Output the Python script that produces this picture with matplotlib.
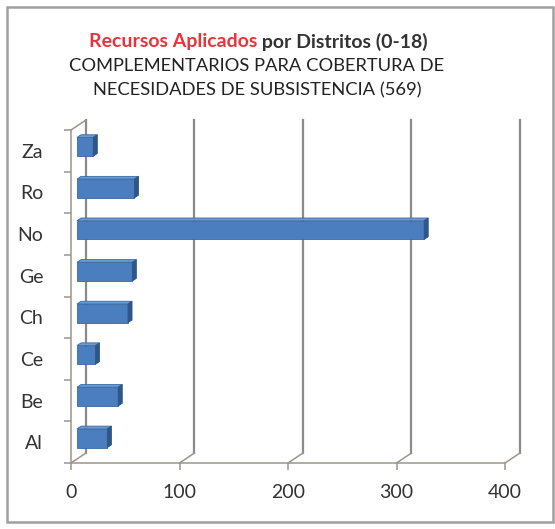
import matplotlib
matplotlib.use("Agg")
import matplotlib.pyplot as plt
from matplotlib.patches import Polygon, Rectangle

# data
distritos = ["Al", "Be", "Ce", "Ch", "Ge", "No", "Ro", "Za"]
recursos = [28, 38, 17, 47, 51, 320, 53, 15]
x_ticks = [0, 100, 200, 300, 400]

titulo_rojo = "Recursos Aplicados"
titulo_resto = " por Distritos (0-18)"
subtitulo = ["COMPLEMENTARIOS PARA COBERTURA DE",
             "NECESIDADES DE SUBSISTENCIA (569)"]

plt.rcParams['font.family'] = ['Lato', 'DejaVu Sans']

# fake 3d depth, in data units
DX = 13.8
DY = 0.24
f0, f1 = 0.40, 0.67   # bar front / back depth fraction
bar_h = 0.45
axis_col = "#9c958c"
grid_col = "#8a8a8a"
front_col = "#4a7ebf"
top_col = "#6a9ad4"
side_col = "#2f5687"

fig = plt.figure(figsize=(5.55, 5.29), dpi=100)
ax = fig.add_axes([71/555, 66/529, 434/555, 333/529])
ax.set_xlim(0, 400)
ax.set_ylim(-0.5, len(distritos) - 0.5)

ytop = len(distritos) - 0.5

# back wall gridlines
for xv in x_ticks:
    ax.plot([xv + DX, xv + DX], [-0.5 + DY, ytop + DY], color=grid_col,
            lw=1.6, clip_on=False, zorder=1)
    # floor diagonals
    ax.plot([xv, xv + DX], [-0.5, -0.5 + DY], color=axis_col, lw=1.1,
            clip_on=False, zorder=1)
# left wall top diagonal
ax.plot([0, DX], [ytop, ytop + DY], color=axis_col, lw=1.1, clip_on=False, zorder=1)

# bars
for i, v in enumerate(recursos):
    x0 = f0 * DX
    y0 = i - bar_h / 2 + f0 * DY
    ddx = (f1 - f0) * DX
    ddy = (f1 - f0) * DY
    ax.add_patch(Rectangle((x0, y0), v, bar_h, facecolor=front_col,
                           edgecolor="#3a6aa5", lw=0.6, zorder=3, clip_on=False))
    top = [(x0, y0 + bar_h), (x0 + v, y0 + bar_h),
           (x0 + v + ddx, y0 + bar_h + ddy), (x0 + ddx, y0 + bar_h + ddy)]
    ax.add_patch(Polygon(top, closed=True, facecolor=top_col, edgecolor="#3a6aa5",
                         lw=0.6, zorder=3, clip_on=False))
    side = [(x0 + v, y0), (x0 + v + ddx, y0 + ddy),
            (x0 + v + ddx, y0 + bar_h + ddy), (x0 + v, y0 + bar_h)]
    ax.add_patch(Polygon(side, closed=True, facecolor=side_col, edgecolor=side_col,
                         lw=0.6, zorder=3, clip_on=False))

for s in ["top", "right"]:
    ax.spines[s].set_visible(False)
for s in ["left", "bottom"]:
    ax.spines[s].set_color(axis_col)
    ax.spines[s].set_linewidth(1.1)

ax.set_yticks(range(len(distritos)))
ax.set_yticklabels(distritos, fontsize=14, color="#333333")
ax.set_yticks([i - 0.5 for i in range(len(distritos) + 1)], minor=True)
ax.tick_params(axis="y", which="major", length=0, pad=20)
ax.tick_params(axis="y", which="minor", length=5, color=axis_col, width=1.1)

ax.set_xticks(x_ticks)
ax.set_xticklabels([str(t) for t in x_ticks], fontsize=14, color="#333333")
ax.tick_params(axis="x", length=5, color=axis_col, width=1.1, pad=10)

# title
fig.text(257/555, 1 - 42/529, titulo_rojo, ha="right", va="center",
         fontsize=14, fontweight="bold", color="#e8343c")
fig.text(257/555, 1 - 42/529, titulo_resto, ha="left", va="center",
         fontsize=14, fontweight="bold", color="#333333")
fig.text(257/555, 1 - 66/529, subtitulo[0], ha="center", va="center",
         fontsize=13.2, color="#222222")
fig.text(257/555, 1 - 90/529, subtitulo[1], ha="center", va="center",
         fontsize=13.2, color="#222222")

# outer frame
fig.add_artist(Rectangle((7/555, 7/529), 546/555, 515/529, transform=fig.transFigure,
                         fill=False, edgecolor="#a0a0a0", lw=1.8))

fig.savefig("out.png", dpi=100)
